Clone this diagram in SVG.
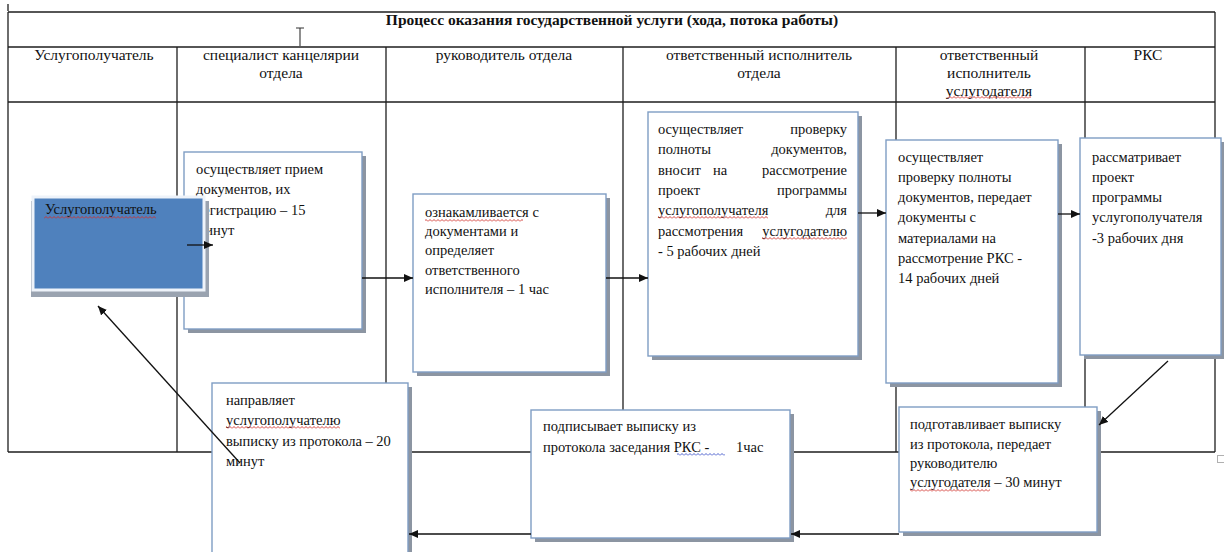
<svg xmlns="http://www.w3.org/2000/svg" width="1224" height="552" viewBox="0 0 1224 552">
  <defs>
    <style>
      .grid { stroke: #1e1e1e; stroke-width: 1.3; fill: none; }
      .t { font-size: 14.5px; fill: #111; }
      .h { font-size: 15.5px; fill: #111; text-anchor: middle; }
      .title { font-size: 15.5px; font-weight: bold; fill: #111; text-anchor: middle; }
      .box { fill: #ffffff; stroke: #7f9dc4; stroke-width: 1.4; }
      .shadow { fill: #8c95a2; }
      .conn { stroke: #111; stroke-width: 1.3; fill: none; marker-end: url(#arrow); }
      .end { text-anchor: end; }
    </style>
    <marker id="arrow" markerUnits="userSpaceOnUse" markerWidth="9" markerHeight="8" refX="9" refY="4" orient="auto">
      <path d="M0,0 L9,4 L0,8 z" fill="#111"/>
    </marker>
    <!-- spell-check squiggles -->
    <pattern id="squigRed" patternUnits="userSpaceOnUse" x="0" y="0" width="4" height="3">
      <path d="M0,2.5 L2,0.5 L4,2.5" stroke="#d0302a" stroke-width="0.9" fill="none"/>
    </pattern>
    <pattern id="squigBlue" patternUnits="userSpaceOnUse" x="0" y="0" width="4" height="3">
      <path d="M0,2.5 L2,0.5 L4,2.5" stroke="#3a4fc8" stroke-width="0.9" fill="none"/>
    </pattern>
  </defs>

  <rect width="1224" height="552" fill="#ffffff"/>

  <g font-family="'Liberation Serif', 'DejaVu Serif', 'Times New Roman', serif">

  <!-- table grid -->
  <g id="table">
    <line class="grid" x1="8" y1="4" x2="8" y2="11" stroke="#999"/>
    <line class="grid" x1="8" y1="12" x2="1215" y2="12"/>
    <line class="grid" x1="8" y1="47" x2="1215" y2="47"/>
    <line class="grid" x1="8" y1="102" x2="1215" y2="102" stroke-width="1.8"/>
    <line class="grid" x1="8" y1="452" x2="1215" y2="452"/>
    <line class="grid" x1="8" y1="12" x2="8" y2="452"/>
    <line class="grid" x1="1215" y1="12" x2="1215" y2="452"/>
    <line class="grid" x1="177" y1="47" x2="177" y2="452"/>
    <line class="grid" x1="386" y1="47" x2="386" y2="452"/>
    <line class="grid" x1="623" y1="47" x2="623" y2="452"/>
    <line class="grid" x1="896" y1="47" x2="896" y2="452"/>
    <line class="grid" x1="1085" y1="47" x2="1085" y2="452"/>
    <rect x="1217.5" y="455.5" width="7" height="7" fill="#fff" stroke="#b0b0b0" stroke-width="1"/>
    <!-- text cursor -->
    <path d="M296,28 L304,28 M300,28 L300,46" stroke="#333" stroke-width="1.1" fill="none"/>
  </g>

  <g id="headers">
    <text class="title" x="612" y="25">Процесс оказания государственной услуги (хода, потока работы)</text>
    <text class="h" x="94" y="60">Услугополучатель</text>
    <text class="h" x="281" y="60">специалист канцелярии</text>
    <text class="h" x="281" y="78">отдела</text>
    <text class="h" x="504" y="60">руководитель отдела</text>
    <text class="h" x="759" y="60">ответственный исполнитель</text>
    <text class="h" x="759" y="78">отдела</text>
    <text class="h" x="989" y="60">ответственный</text>
    <text class="h" x="989" y="78">исполнитель</text>
    <text class="h" x="989" y="96">услугодателя</text>
    <rect x="947" y="96" width="84" height="3" fill="url(#squigRed)"/>
    <text class="h" x="1148" y="60">РКС</text>
  </g>

  <g id="step-reception">
    <rect class="shadow" x="188" y="156" width="178" height="177"/>
    <rect class="box" x="184" y="152" width="178" height="177"/>
    <text class="t" x="196" y="174">осуществляет прием</text>
    <text class="t" x="196" y="194">документов, их</text>
    <text class="t" x="196" y="215">регистрацию – 15</text>
    <text class="t" x="196" y="235">минут</text>
  </g>

  <g id="applicant">
    <rect x="31" y="201" width="178" height="96" fill="#9aa3b0"/>
    <rect x="33" y="197" width="171" height="93" fill="#4f81bd" stroke="#eef3fa" stroke-width="3"/>
    <text class="t" x="45" y="214">Услугополучатель</text>
    <rect x="44" y="216" width="112" height="3" fill="url(#squigRed)"/>
  </g>

  <g id="step-head">
    <rect class="shadow" x="417" y="198" width="193" height="178"/>
    <rect class="box" x="413" y="194" width="193" height="178"/>
    <text class="t" x="425" y="217">ознакамливается с</text>
    <rect x="425" y="219" width="98" height="3" fill="url(#squigRed)"/>
    <text class="t" x="425" y="236">документами и</text>
    <text class="t" x="425" y="255">определяет</text>
    <text class="t" x="425" y="275">ответственного</text>
    <text class="t" x="425" y="294">исполнителя – 1 час</text>
  </g>

  <g id="step-executor">
    <rect class="shadow" x="652" y="116" width="210" height="244"/>
    <rect class="box" x="648" y="112" width="210" height="244"/>
    <text class="t" x="658" y="134">осуществляет</text>
    <text class="t end" x="847" y="134">проверку</text>
    <text class="t" x="658" y="154">полноты</text>
    <text class="t end" x="847" y="154">документов,</text>
    <text class="t" x="658" y="175">вносит</text>
    <text class="t" x="713" y="175">на</text>
    <text class="t end" x="847" y="175">рассмотрение</text>
    <text class="t" x="658" y="195">проект</text>
    <text class="t end" x="847" y="195">программы</text>
    <text class="t" x="658" y="215">услугополучателя</text>
    <rect x="658" y="216" width="110" height="3" fill="url(#squigRed)"/>
    <text class="t end" x="847" y="215">для</text>
    <text class="t" x="658" y="236">рассмотрения</text>
    <text class="t end" x="847" y="236">услугодателю</text>
    <rect x="762" y="237" width="85" height="3" fill="url(#squigRed)"/>
    <text class="t" x="658" y="256">- 5 рабочих дней</text>
  </g>

  <g id="step-provider">
    <rect class="shadow" x="890" y="144" width="172" height="243"/>
    <rect class="box" x="886" y="140" width="172" height="243"/>
    <text class="t" x="898" y="162">осуществляет</text>
    <text class="t" x="898" y="182">проверку полноты</text>
    <text class="t" x="898" y="202">документов, передает</text>
    <text class="t" x="898" y="222">документы с</text>
    <text class="t" x="898" y="243">материалами на</text>
    <text class="t" x="898" y="263">рассмотрение РКС -</text>
    <text class="t" x="898" y="283">14 рабочих дней</text>
  </g>

  <g id="step-rks">
    <rect class="shadow" x="1084" y="142" width="141" height="217"/>
    <rect class="box" x="1080" y="138" width="141" height="217"/>
    <text class="t" x="1092" y="162">рассматривает</text>
    <text class="t" x="1092" y="182">проект</text>
    <text class="t" x="1092" y="202">программы</text>
    <text class="t" x="1092" y="222">услугополучателя</text>
    <text class="t" x="1092" y="243">-3 рабочих дня</text>
  </g>

  <g id="step-extract">
    <rect class="shadow" x="903" y="411" width="198" height="125"/>
    <rect class="box" x="899" y="407" width="198" height="125"/>
    <text class="t" x="910" y="429">подготавливает выписку</text>
    <text class="t" x="910" y="449">из протокола, передает</text>
    <text class="t" x="910" y="468">руководителю</text>
    <text class="t" x="910" y="487">услугодателя – 30 минут</text>
    <rect x="910" y="489" width="80" height="3" fill="url(#squigRed)"/>
  </g>

  <g id="step-sign">
    <rect class="shadow" x="535" y="414" width="259" height="128"/>
    <rect class="box" x="531" y="410" width="259" height="128"/>
    <text class="t" x="543" y="431">подписывает выписку из</text>
    <text class="t" x="543" y="452">протокола заседания РКС -<tspan x="736">1час</tspan></text>
    <rect x="677" y="453" width="48" height="3" fill="url(#squigBlue)"/>
  </g>

  <g id="step-send">
    <rect class="shadow" x="216" y="387" width="196" height="175"/>
    <rect class="box" x="212" y="383" width="196" height="175"/>
    <text class="t" x="226" y="405">направляет</text>
    <text class="t" x="226" y="425">услугополучателю</text>
    <rect x="226" y="426" width="114" height="3" fill="url(#squigRed)"/>
    <text class="t" x="226" y="446">выписку из протокола – 20</text>
    <text class="t" x="226" y="466">минут</text>
  </g>

  </g>

  <g id="connectors">
    <path class="conn" d="M187,245 L213,245"/>
    <path class="conn" d="M362,278 L413,278"/>
    <path class="conn" d="M606,278 L648,278"/>
    <path class="conn" d="M858,213 L886,213"/>
    <path class="conn" d="M1058,214 L1080,214"/>
    <path class="conn" d="M1168,361 L1099,425"/>
    <path class="conn" d="M899,534 L791,534"/>
    <path class="conn" d="M531,534 L409,534"/>
    <path class="conn" d="M240,463 L98,306"/>
  </g>
</svg>
